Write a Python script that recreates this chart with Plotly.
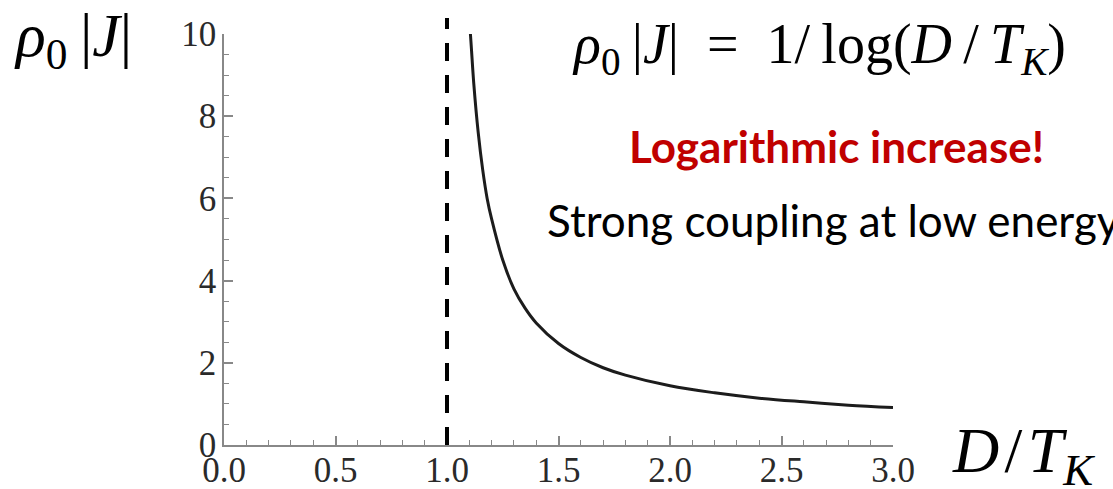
import plotly.graph_objects as go

# Coupling rho0|J| read along the curve against D/T_K
d_over_tk = [1.105, 1.11, 1.12, 1.14, 1.16, 1.18, 1.20, 1.25, 1.30, 1.35, 1.40,
             1.50, 1.60, 1.70, 1.80, 2.00, 2.20, 2.40, 2.60, 2.80, 3.00]
coupling = [10.0, 9.6, 8.8, 7.6, 6.7, 6.0, 5.5, 4.5, 3.8, 3.33, 2.97,
            2.47, 2.13, 1.88, 1.70, 1.44, 1.27, 1.14, 1.05, 0.97, 0.91]

kondo_line_x = 1.0

x_ticks = [0.0, 0.5, 1.0, 1.5, 2.0, 2.5, 3.0]
y_ticks = [0, 2, 4, 6, 8, 10]

W, H = 1113, 489
L, R, T, B = 224, 893, 34, 445  # plot area in pixels


def px(x):
    return (x - L) / (R - L)


def py(y):
    return (B - y) / (B - T)


fig = go.Figure()
fig.add_trace(go.Scatter(
    x=d_over_tk, y=coupling, mode="lines", line_shape="spline",
    line=dict(color="#1c1c1c", width=3), hoverinfo="skip", showlegend=False,
))

# dashed marker at D = T_K, running a little above the frame
fig.add_shape(type="line", xref="x", yref="paper",
              x0=kondo_line_x, x1=kondo_line_x, y0=0, y1=py(18),
              line=dict(color="black", width=4, dash="18px,14px"))

serif = "Liberation Serif"
axis_common = dict(
    showgrid=False, zeroline=False, showline=True, linecolor="#888888",
    linewidth=1.6, ticks="inside", ticklen=9, tickwidth=1.5, tickcolor="#888888",
    tickfont=dict(family=serif, size=35, color="#2a2a2a"), automargin=False,
)
fig.update_xaxes(range=[0, 3], tickvals=x_ticks, tickformat=".1f",
                 minor=dict(dtick=0.1, ticks="inside", ticklen=5, tickcolor="#888888", tickwidth=1.2),
                 ticklabelstandoff=-7, **axis_common)
fig.update_yaxes(range=[0, 10], tickvals=y_ticks,
                 minor=dict(dtick=0.5, ticks="inside", ticklen=5, tickcolor="#888888", tickwidth=1.2),
                 ticklabelstandoff=-1, **axis_common)

ann = []
ann.append(dict(x=px(12), y=py(40), text="<i>ρ</i><sub>0</sub>\u2009|<i>J</i>|",
                font=dict(family=serif, size=62, color="black"),
                xanchor="left", yanchor="middle"))
ann.append(dict(x=px(950), y=py(455),
                text="<i>D</i>\u200a/\u200a<i>T</i><sub><i>K</i></sub>",
                font=dict(family=serif, size=64, color="black"),
                xanchor="left", yanchor="middle"))
ann.append(dict(x=px(570), y=py(48),
                text="<i>ρ</i><sub>0</sub>\u2009|<i>J</i>|\u2002=\u20021/\u2009log(<i>D</i>\u2009/\u2009<i>T</i><sub><i>K</i></sub>)",
                font=dict(family=serif, size=56, color="black"),
                xanchor="left", yanchor="middle"))
ann.append(dict(x=px(836), y=py(146), text="<b>Logarithmic increase!</b>",
                font=dict(family="Lato", size=44, color="#c00000"),
                xanchor="center", yanchor="middle"))
ann.append(dict(x=px(545), y=py(220), text="Strong coupling at low energy",
                font=dict(family="Lato", size=44, color="black"),
                xanchor="left", yanchor="middle"))
for a in ann:
    a.update(xref="paper", yref="paper", showarrow=False)

fig.update_layout(
    width=W, height=H, autosize=False,
    margin=dict(l=L, r=W - R, t=T, b=H - B, pad=0, autoexpand=False),
    paper_bgcolor="white", plot_bgcolor="white",
    annotations=ann,
)

fig.write_html("out.html")
